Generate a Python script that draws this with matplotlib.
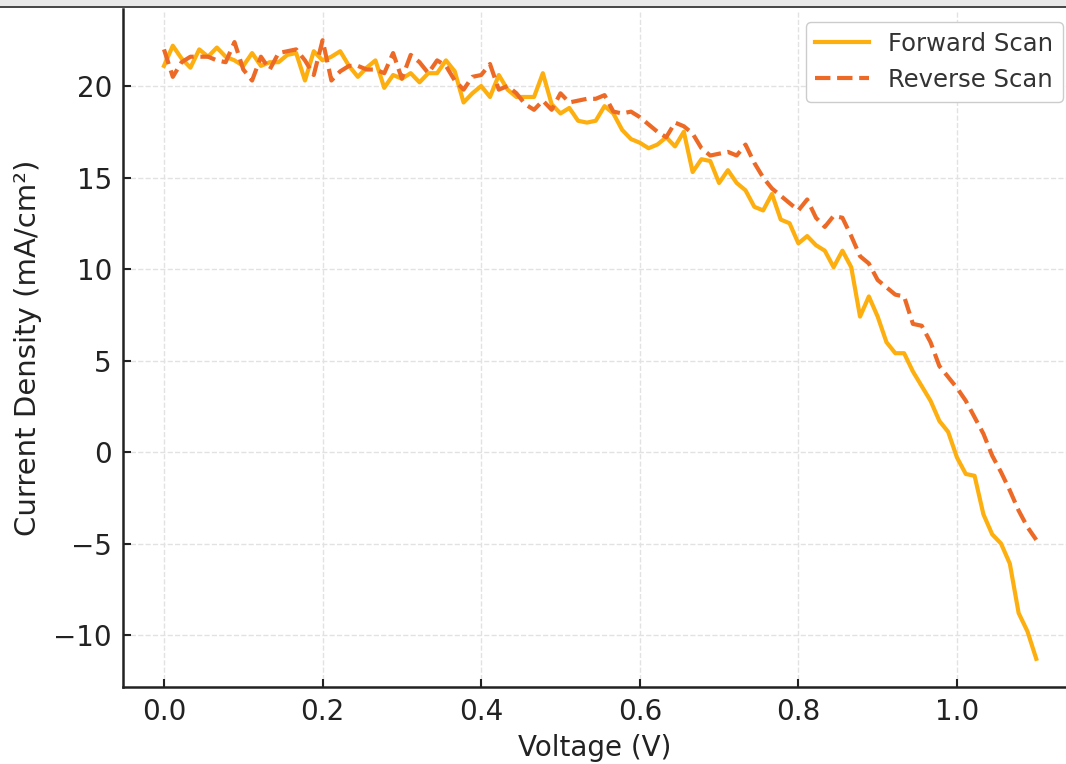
import numpy as np
import matplotlib
matplotlib.use("Agg")
import matplotlib.pyplot as plt
from matplotlib.patches import Rectangle

# J-V sweep, 100 points from 0 to 1.1 V
voltage = np.linspace(0.0, 1.1, 100)

forward_scan = [
    21.1, 22.2, 21.5, 21.0, 22.0, 21.6, 22.1, 21.6, 21.4, 21.1,
    21.8, 21.1, 21.3, 21.3, 21.7, 21.8, 20.3, 21.9, 21.4, 21.6,
    21.9, 21.1, 20.5, 21.0, 21.4, 19.9, 20.6, 20.4, 20.7, 20.2,
    20.7, 20.7, 21.4, 20.8, 19.1, 19.6, 20.0, 19.4, 20.6, 19.8,
    19.4, 19.4, 19.4, 20.7, 19.0, 18.5, 18.8, 18.1, 18.0, 18.1,
    18.9, 18.5, 17.6, 17.1, 16.9, 16.6, 16.8, 17.2, 16.7, 17.5,
    15.3, 16.0, 15.9, 14.7, 15.4, 14.7, 14.3, 13.4, 13.2, 14.1,
    12.7, 12.5, 11.4, 11.8, 11.3, 11.0, 10.1, 11.0, 10.1, 7.4,
    8.5, 7.4, 6.0, 5.4, 5.4, 4.4, 3.6, 2.8, 1.7, 1.1,
    -0.3, -1.2, -1.3, -3.4, -4.5, -5.0, -6.1, -8.8, -9.8, -11.3,
]

reverse_scan = [
    22.0, 20.5, 21.3, 21.6, 21.6, 21.6, 21.4, 21.3, 22.4, 20.9,
    20.3, 21.6, 20.9, 21.8, 21.9, 22.0, 21.4, 20.6, 22.5, 20.3,
    20.8, 21.1, 21.1, 20.9, 20.9, 20.7, 21.8, 20.4, 21.7, 21.3,
    20.7, 21.4, 21.1, 20.3, 19.8, 20.5, 20.6, 21.2, 19.8, 20.0,
    19.6, 19.0, 18.7, 19.2, 18.7, 19.6, 19.1, 19.2, 19.3, 19.3,
    19.5, 18.6, 18.5, 18.6, 18.3, 17.9, 17.5, 17.2, 18.0, 17.8,
    17.4, 16.6, 16.2, 16.3, 16.4, 16.2, 16.8, 15.8, 15.0, 14.4,
    14.0, 13.6, 13.2, 13.8, 12.8, 12.3, 12.9, 12.8, 11.8, 10.7,
    10.3, 9.4, 9.0, 8.6, 8.5, 7.0, 6.9, 6.0, 4.7, 4.1,
    3.5, 2.8, 1.9, 1.0, -0.2, -1.1, -2.1, -3.2, -4.1, -4.8,
]

x_ticks = [0.0, 0.2, 0.4, 0.6, 0.8, 1.0]
y_ticks = [-10, -5, 0, 5, 10, 15, 20]

W, H = 1066, 764
fig = plt.figure(figsize=(W / 100, H / 100), dpi=100, facecolor="white")

# window strip along the top edge
fig.patches.append(Rectangle((0, 1 - 6 / H), 1, 6 / H, transform=fig.transFigure,
                             facecolor="#e9e9e9", edgecolor="none", zorder=0))
fig.patches.append(Rectangle((0, 1 - 8 / H), 1, 2 / H, transform=fig.transFigure,
                             facecolor="#4a4a4a", edgecolor="none", zorder=0))

left, right, top, bottom = 123, 1066, 9.5, 687
ax = fig.add_axes([left / W, 1 - bottom / H, (right - left) / W, (bottom - top) / H])

ax.plot(voltage, forward_scan, color="#FDAF0F", lw=3, label="Forward Scan", zorder=3)
ax.plot(voltage, reverse_scan, color="#EC6A26", lw=3, ls="--", label="Reverse Scan", zorder=3)

ax.set_xlim(-0.0517, 1.1375)
ax.set_ylim(-12.84, 24.18)
ax.set_xticks(x_ticks)
ax.set_yticks(y_ticks)

ax.grid(True, ls="--", lw=1.0, color="#e2e2e2")
ax.set_axisbelow(True)

for side in ("top", "right"):
    ax.spines[side].set_visible(False)
for side in ("left", "bottom"):
    ax.spines[side].set_linewidth(1.8)
    ax.spines[side].set_color("#222222")

ax.tick_params(direction="in", length=6, width=1.5, colors="#222222",
               labelsize=20, pad=8)

ax.set_xlabel("Voltage (V)", fontsize=20, color="#222222", labelpad=6)
ax.set_ylabel("Current Density (mA/cm²)", fontsize=21, color="#222222", labelpad=8)

leg = ax.legend(loc="upper right", bbox_to_anchor=(1063 / W, 1 - 22 / H),
                bbox_transform=fig.transFigure, borderaxespad=0, fontsize=17.5,
                handlelength=2.2, frameon=True, fancybox=True, framealpha=1.0,
                edgecolor="#cccccc")
for t in leg.get_texts():
    t.set_color("#333333")

fig.savefig("out.png", dpi=100, facecolor="white")
